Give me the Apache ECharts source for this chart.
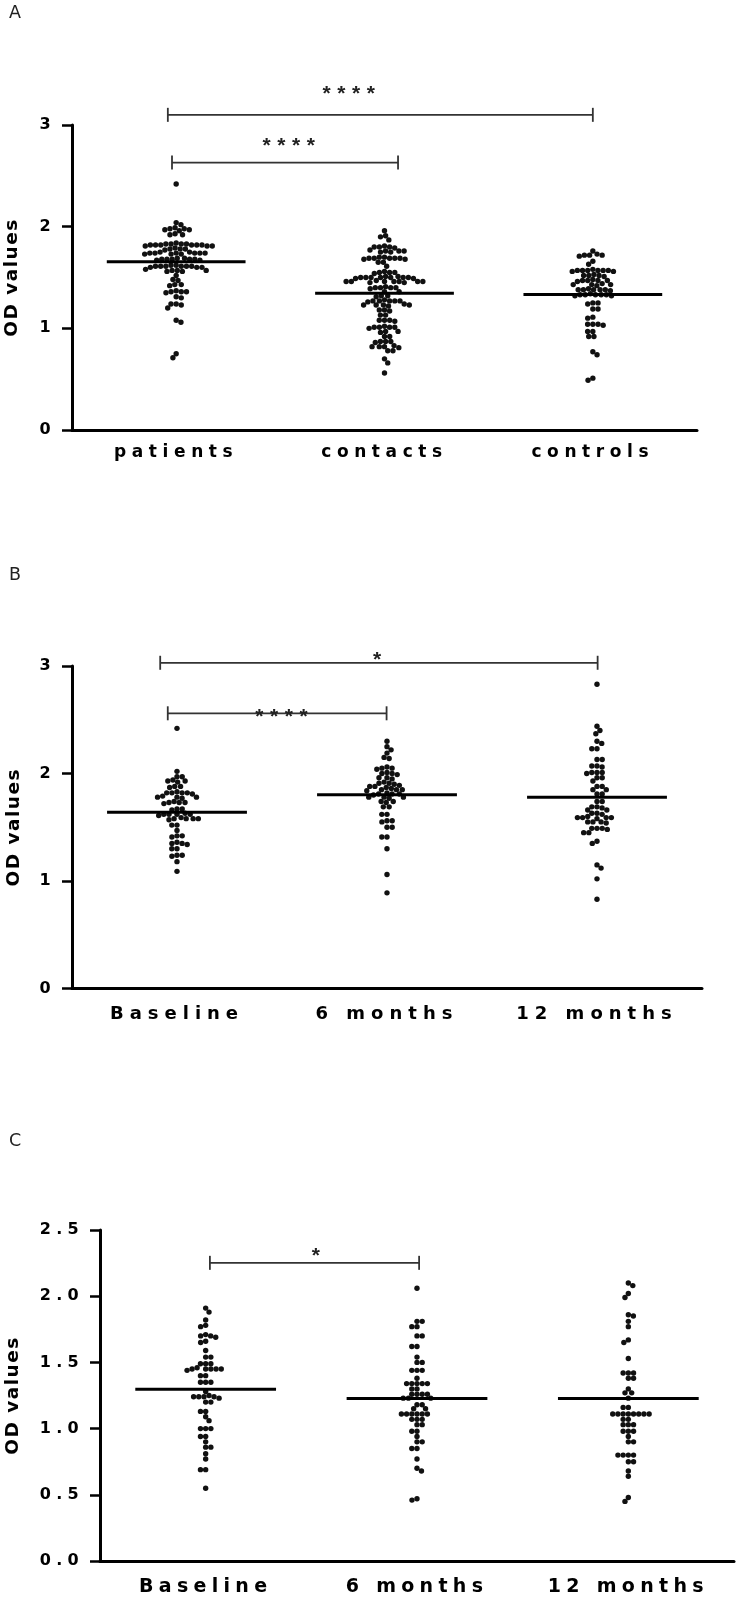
<!DOCTYPE html>
<html><head><meta charset="utf-8">
<script src="https://cdn.jsdelivr.net/npm/echarts@6/dist/echarts.min.js"></script>
<style>html,body{margin:0;padding:0;background:#fff}#c{width:737px;height:1599px}</style>
</head><body><div id="c"></div>
<script>
// ---------------- DATA ----------------
var catsA = ['patients', 'contacts', 'controls'];
var catsB = ['Baseline', '6 months', '12 months'];
var catsC = ['Baseline', '6 months', '12 months'];
var ticksAB = [0, 1, 2, 3];
var ticksC = [0, 0.5, 1.0, 1.5, 2.0, 2.5];

var aPatients = [2.42, 2.04, 2.02, 1.99, 1.98, 1.98, 1.97, 1.97, 1.96, 1.93, 1.92, 1.92,
  1.84, 1.83, 1.83, 1.83, 1.82, 1.82, 1.82, 1.82, 1.82, 1.81, 1.81, 1.81, 1.83, 1.82,
  1.78, 1.78, 1.77, 1.78, 1.79,
  1.75, 1.74, 1.74, 1.74, 1.73, 1.73, 1.74, 1.75, 1.74, 1.73, 1.74,
  1.69, 1.68, 1.68, 1.68, 1.67, 1.68, 1.69, 1.68, 1.67,
  1.62, 1.61, 1.61, 1.61, 1.60, 1.61, 1.62, 1.60, 1.61, 1.61, 1.60,
  1.57, 1.57, 1.56, 1.57, 1.58, 1.56, 1.52, 1.48, 1.47, 1.43, 1.43, 1.42,
  1.37, 1.36, 1.36, 1.35, 1.36, 1.31, 1.30, 1.24, 1.24, 1.23, 1.20, 1.08, 1.06, 0.75, 0.71];
var aContacts = [1.96, 1.91, 1.90, 1.87, 1.81, 1.80, 1.80, 1.79, 1.80,
  1.76, 1.76, 1.75, 1.76, 1.77, 1.75, 1.70, 1.69, 1.69, 1.68, 1.69, 1.70, 1.69, 1.68, 1.69,
  1.65, 1.65, 1.61, 1.55, 1.55, 1.54, 1.55, 1.56,
  1.50, 1.50, 1.49, 1.50, 1.51, 1.50, 1.50, 1.49, 1.50, 1.51, 1.50,
  1.46, 1.46, 1.45, 1.46, 1.46, 1.47, 1.46, 1.45, 1.46, 1.46,
  1.40, 1.40, 1.41, 1.40, 1.39, 1.40, 1.36, 1.36, 1.32, 1.32, 1.31,
  1.27, 1.27, 1.26, 1.27, 1.28, 1.27, 1.27, 1.23, 1.23, 1.22, 1.23, 1.24, 1.23,
  1.18, 1.18, 1.17, 1.13, 1.13, 1.08, 1.08, 1.07, 1.08, 1.01, 1.01, 1.00, 1.01, 1.02, 1.01,
  0.97, 0.97, 0.96, 0.92, 0.92, 0.87, 0.87, 0.86, 0.87, 0.82, 0.82, 0.81, 0.82, 0.83,
  0.78, 0.78, 0.70, 0.66, 0.56];
var aControls = [1.76, 1.72, 1.72, 1.71, 1.72, 1.73, 1.66, 1.63,
  1.57, 1.57, 1.56, 1.57, 1.58, 1.57, 1.56, 1.57, 1.57, 1.52, 1.52, 1.51, 1.52, 1.53,
  1.47, 1.47, 1.46, 1.47, 1.48, 1.47, 1.43, 1.43, 1.42, 1.43, 1.44,
  1.38, 1.38, 1.37, 1.38, 1.39, 1.38, 1.38, 1.33, 1.33, 1.32, 1.33, 1.34, 1.33, 1.32, 1.33,
  1.25, 1.25, 1.24, 1.19, 1.19, 1.11, 1.10, 1.04, 1.04, 1.03, 1.04, 0.97, 0.97, 0.92, 0.92,
  0.77, 0.74, 0.51, 0.49];

var bBaseline = [2.42, 2.02, 1.97, 1.97, 1.93, 1.93, 1.94, 1.92, 1.88, 1.88, 1.87,
  1.82, 1.82, 1.81, 1.82, 1.83, 1.82, 1.78, 1.78, 1.77, 1.78, 1.79,
  1.73, 1.73, 1.72, 1.73, 1.74, 1.67, 1.67, 1.66, 1.62, 1.62, 1.61, 1.62, 1.63, 1.62,
  1.58, 1.58, 1.57, 1.58, 1.59, 1.58, 1.52, 1.52, 1.47, 1.42, 1.42, 1.41,
  1.35, 1.35, 1.34, 1.36, 1.30, 1.30, 1.24, 1.24, 1.23, 1.18, 1.09];
var b6m = [2.30, 2.25, 2.22, 2.19, 2.15, 2.14, 2.05, 2.05, 2.04, 2.06, 2.00, 2.00, 1.99, 2.01,
  1.96, 1.96, 1.95, 1.91, 1.91, 1.90, 1.92, 1.88, 1.88, 1.87, 1.89,
  1.85, 1.85, 1.84, 1.85, 1.86, 1.81, 1.81, 1.80, 1.81, 1.82, 1.78, 1.78, 1.77, 1.78,
  1.74, 1.74, 1.73, 1.69, 1.69, 1.62, 1.62, 1.56, 1.56, 1.55, 1.50, 1.50, 1.41, 1.41,
  1.30, 1.06, 0.89];
var b12m = [2.83, 2.44, 2.40, 2.37, 2.30, 2.28, 2.23, 2.23, 2.13, 2.13, 2.07, 2.07, 2.06,
  2.01, 2.01, 2.00, 2.01, 1.96, 1.96, 1.93, 1.88, 1.88, 1.85, 1.85, 1.81, 1.81, 1.74, 1.74,
  1.69, 1.69, 1.68, 1.66, 1.66, 1.63, 1.63, 1.62, 1.59, 1.59, 1.58, 1.59, 1.60, 1.59,
  1.55, 1.55, 1.54, 1.55, 1.49, 1.49, 1.48, 1.49, 1.45, 1.45, 1.37, 1.35, 1.15, 1.12, 1.02, 0.83];

var cBaseline = [1.91, 1.88, 1.82, 1.78, 1.77, 1.71, 1.70, 1.70, 1.69, 1.66, 1.65, 1.59, 1.54, 1.54,
  1.49, 1.49, 1.49, 1.45, 1.45, 1.45, 1.44, 1.45, 1.46, 1.45, 1.40, 1.40, 1.35, 1.35, 1.35, 1.28,
  1.24, 1.24, 1.24, 1.23, 1.24, 1.25, 1.20, 1.20, 1.13, 1.13, 1.09, 1.06, 1.00, 1.00, 1.00,
  0.94, 0.94, 0.90, 0.86, 0.86, 0.81, 0.77, 0.69, 0.69, 0.55];
var c6m = [2.06, 1.81, 1.81, 1.77, 1.77, 1.70, 1.70, 1.62, 1.62, 1.54, 1.50, 1.50, 1.44, 1.44, 1.44,
  1.38, 1.34, 1.34, 1.34, 1.34, 1.34, 1.30, 1.30, 1.26, 1.26, 1.26, 1.26, 1.23, 1.23, 1.23,
  1.18, 1.18, 1.15, 1.15, 1.11, 1.11, 1.11, 1.11, 1.11, 1.11, 1.07, 1.07, 1.07, 1.03, 1.03,
  0.98, 0.98, 0.94, 0.90, 0.90, 0.85, 0.85, 0.77, 0.70, 0.68, 0.47, 0.46];
var c12m = [2.10, 2.08, 2.02, 1.99, 1.86, 1.85, 1.81, 1.77, 1.67, 1.65, 1.53, 1.42, 1.42, 1.42,
  1.38, 1.38, 1.30, 1.27, 1.27, 1.23, 1.16, 1.16, 1.11, 1.11, 1.11, 1.11, 1.11, 1.11, 1.11, 1.11,
  1.07, 1.07, 1.03, 1.03, 1.03, 0.98, 0.98, 0.98, 0.94, 0.90, 0.90, 0.80, 0.80, 0.80, 0.80,
  0.75, 0.75, 0.68, 0.64, 0.48, 0.45];

var medA = [1.655, 1.344, 1.334];
var medB = [1.639, 1.803, 1.778];
var medC = [1.297, 1.227, 1.227];

// significance brackets: x in band units (category i centre = i + 0.5)
var bracketsA = [
  {from: 0.46, to: 2.50, y: 3.10, label: '****', labelX: 1.344, labelY: 3.30},
  {from: 0.48, to: 1.565, y: 2.63, label: '****', labelX: 1.056, labelY: 2.79}
];
var bracketsB = [
  {from: 0.42, to: 2.503, y: 3.03, label: '*', labelX: 1.469, labelY: 3.05},
  {from: 0.456, to: 1.498, y: 2.56, label: '****', labelX: 1.013, labelY: 2.525}
];
var bracketsC = [
  {from: 0.52, to: 1.51, y: 2.252, label: '*', labelX: 1.037, labelY: 2.30}
];

// ---------------- letter spacing for canvas text (keyed by font size) ----------------
var SPACING = {'16': 5.3, '17': 5.6, '18': 6, '19': 5.3, '18.5': 1.5, '21': 6.6};
(function () {
  var P = CanvasRenderingContext2D.prototype;
  if (!('letterSpacing' in P)) return;
  var orig = P.fillText;
  P.fillText = function (t, x, y, w) {
    var m = /(\d+(?:\.\d+)?)px/.exec(this.font);
    var s = m ? SPACING[m[1]] : 0;
    if (s) {
      var prev = this.letterSpacing;
      this.letterSpacing = s + 'px';
      if (w === undefined) orig.call(this, t, x, y); else orig.call(this, t, x, y, w);
      this.letterSpacing = prev;
    } else {
      if (w === undefined) orig.call(this, t, x, y); else orig.call(this, t, x, y, w);
    }
  };
})();

// ---------------- helpers ----------------
var R = 2.7, D = 5.2;
function swarm(ys) {
  var order = ys.map(function (y, i) { return i; }).sort(function (a, b) { return ys[a] - ys[b]; });
  var placed = [], off = new Array(ys.length), flip = 1;
  order.forEach(function (i) {
    var y = ys[i];
    var near = placed.filter(function (p) { return Math.abs(p.y - y) < D; });
    var c = [0];
    near.forEach(function (p) {
      var dx = Math.sqrt(D * D - (p.y - y) * (p.y - y));
      c.push(p.x + dx, p.x - dx);
    });
    c.sort(function (a, b) { return (Math.abs(a) - Math.abs(b)) || (flip * (b - a)); });
    for (var k = 0; k < c.length; k++) {
      var cx = c[k];
      var ok = near.every(function (p) { return (p.x - cx) * (p.x - cx) + (p.y - y) * (p.y - y) >= D * D - 0.01; });
      if (ok) { off[i] = cx; placed.push({x: cx, y: y}); if (cx !== 0) flip = -flip; break; }
    }
  });
  return off;
}

function dotSeries(g, cat, values) {
  var cache = null;
  return {
    type: 'custom', xAxisIndex: g * 2, yAxisIndex: g, silent: true, clip: false,
    data: values.map(function (v) { return [cat, v]; }),
    encode: {x: 0, y: 1},
    renderItem: function (params, api) {
      if (!cache || params.dataIndex === 0) {
        cache = swarm(values.map(function (v) { return api.coord([cat, v])[1]; }));
      }
      var p = api.coord([cat, api.value(1)]);
      return {type: 'circle', shape: {cx: p[0] + cache[params.dataIndex], cy: p[1], r: R},
        style: {fill: '#111'}};
    }
  };
}

function medianSeries(g, meds) {
  return {
    type: 'custom', xAxisIndex: g * 2, yAxisIndex: g, silent: true, clip: false,
    data: meds.map(function (m, i) { return [i, m]; }),
    encode: {x: 0, y: 1},
    renderItem: function (params, api) {
      var p = api.coord([api.value(0), api.value(1)]);
      var half = api.size([1, 0])[0] * 0.333;
      return {type: 'line', shape: {x1: p[0] - half, y1: p[1], x2: p[0] + half, y2: p[1]},
        style: {stroke: '#000', lineWidth: 3}};
    }
  };
}

function bracketSeries(g, arr) {
  return {
    type: 'custom', xAxisIndex: g * 2 + 1, yAxisIndex: g, silent: true, clip: false,
    data: arr.map(function (b) { return [b.from, b.to, b.y, b.labelX, b.labelY]; }),
    encode: {x: [0, 1, 3], y: [2, 4]},
    renderItem: function (params, api) {
      var b = arr[params.dataIndex];
      var p1 = api.coord([api.value(0), api.value(2)]);
      var p2 = api.coord([api.value(1), api.value(2)]);
      var pl = api.coord([api.value(3), api.value(4)]);
      var st = {stroke: '#333', lineWidth: 1.8};
      return {type: 'group', children: [
        {type: 'line', shape: {x1: p1[0], y1: p1[1], x2: p2[0], y2: p2[1]}, style: st},
        {type: 'line', shape: {x1: p1[0], y1: p1[1] - 7, x2: p1[0], y2: p1[1] + 7}, style: st},
        {type: 'line', shape: {x1: p2[0], y1: p2[1] - 7, x2: p2[0], y2: p2[1] + 7}, style: st},
        {type: 'text', style: {text: b.label, x: pl[0], y: pl[1], align: 'center', verticalAlign: 'middle',
          font: 'bold 21px "Liberation Sans"', fill: '#222'}}
      ]};
    }
  };
}

var grids = [
  {left: 72, top: 125, width: 625, height: 305, outerBoundsMode: 'none', containLabel: false},
  {left: 72, top: 666, width: 630, height: 322.5, outerBoundsMode: 'none', containLabel: false},
  {left: 100, top: 1230, width: 634, height: 331, outerBoundsMode: 'none', containLabel: false}
];
var cats = [catsA, catsB, catsC];
var catFont = [17, 18, 19];
var catMargin = [14, 17, 17];
var ticks = [ticksAB, ticksAB, ticksC];
var nameGaps = [50, 48, 77];

var xAxes = [], yAxes = [];
for (var g = 0; g < 3; g++) {
  xAxes.push({
    type: 'category', gridIndex: g, data: cats[g], boundaryGap: true,
    axisLine: {lineStyle: {color: '#000', width: 3}},
    axisTick: {alignWithLabel: true, length: 8, lineStyle: {color: '#000', width: 2.5}},
    axisLabel: {interval: 0, margin: catMargin[g], color: '#000', fontWeight: 'bold',
      fontSize: catFont[g], fontFamily: 'DejaVu Sans'},
    splitLine: {show: false}
  });
  xAxes.push({type: 'value', gridIndex: g, min: 0, max: 3, show: false});
  var t = ticks[g];
  yAxes.push({
    type: 'value', gridIndex: g, min: t[0], max: t[t.length - 1], interval: t[1] - t[0],
    name: 'OD values', nameLocation: 'middle', nameRotate: 90, nameGap: nameGaps[g],
    nameTextStyle: {fontWeight: 'bold', fontSize: 18.5, fontFamily: 'DejaVu Sans', color: '#000'},
    axisLine: {show: true, lineStyle: {color: '#000', width: 3}},
    axisTick: {show: true, length: 10, lineStyle: {color: '#000', width: 2.5}},
    axisLabel: {margin: 16, color: '#000', fontWeight: 'bold', fontSize: 16, fontFamily: 'DejaVu Sans',
      formatter: g === 2 ? function (v) { return v.toFixed(1); } : function (v) { return String(v); }},
    splitLine: {show: false}
  });
}

var series = [
  dotSeries(0, 0, aPatients), dotSeries(0, 1, aContacts), dotSeries(0, 2, aControls),
  dotSeries(1, 0, bBaseline), dotSeries(1, 1, b6m), dotSeries(1, 2, b12m),
  dotSeries(2, 0, cBaseline), dotSeries(2, 1, c6m), dotSeries(2, 2, c12m),
  medianSeries(0, medA), medianSeries(1, medB), medianSeries(2, medC),
  bracketSeries(0, bracketsA), bracketSeries(1, bracketsB), bracketSeries(2, bracketsC)
];

var letterStyle = {fontFamily: 'DejaVu Sans', fontWeight: 'normal', fontSize: 17.5, color: '#222'};
var chart = echarts.init(document.getElementById('c'), null, {renderer: 'canvas'});
chart.setOption({
  backgroundColor: '#fff',
  animation: false,
  title: [
    {text: 'A', left: 9, top: 4.5, padding: 0, textStyle: letterStyle},
    {text: 'B', left: 9, top: 566, padding: 0, textStyle: letterStyle},
    {text: 'C', left: 9, top: 1132, padding: 0, textStyle: letterStyle}
  ],
  grid: grids,
  xAxis: xAxes,
  yAxis: yAxes,
  series: series
});
</script></body></html>
